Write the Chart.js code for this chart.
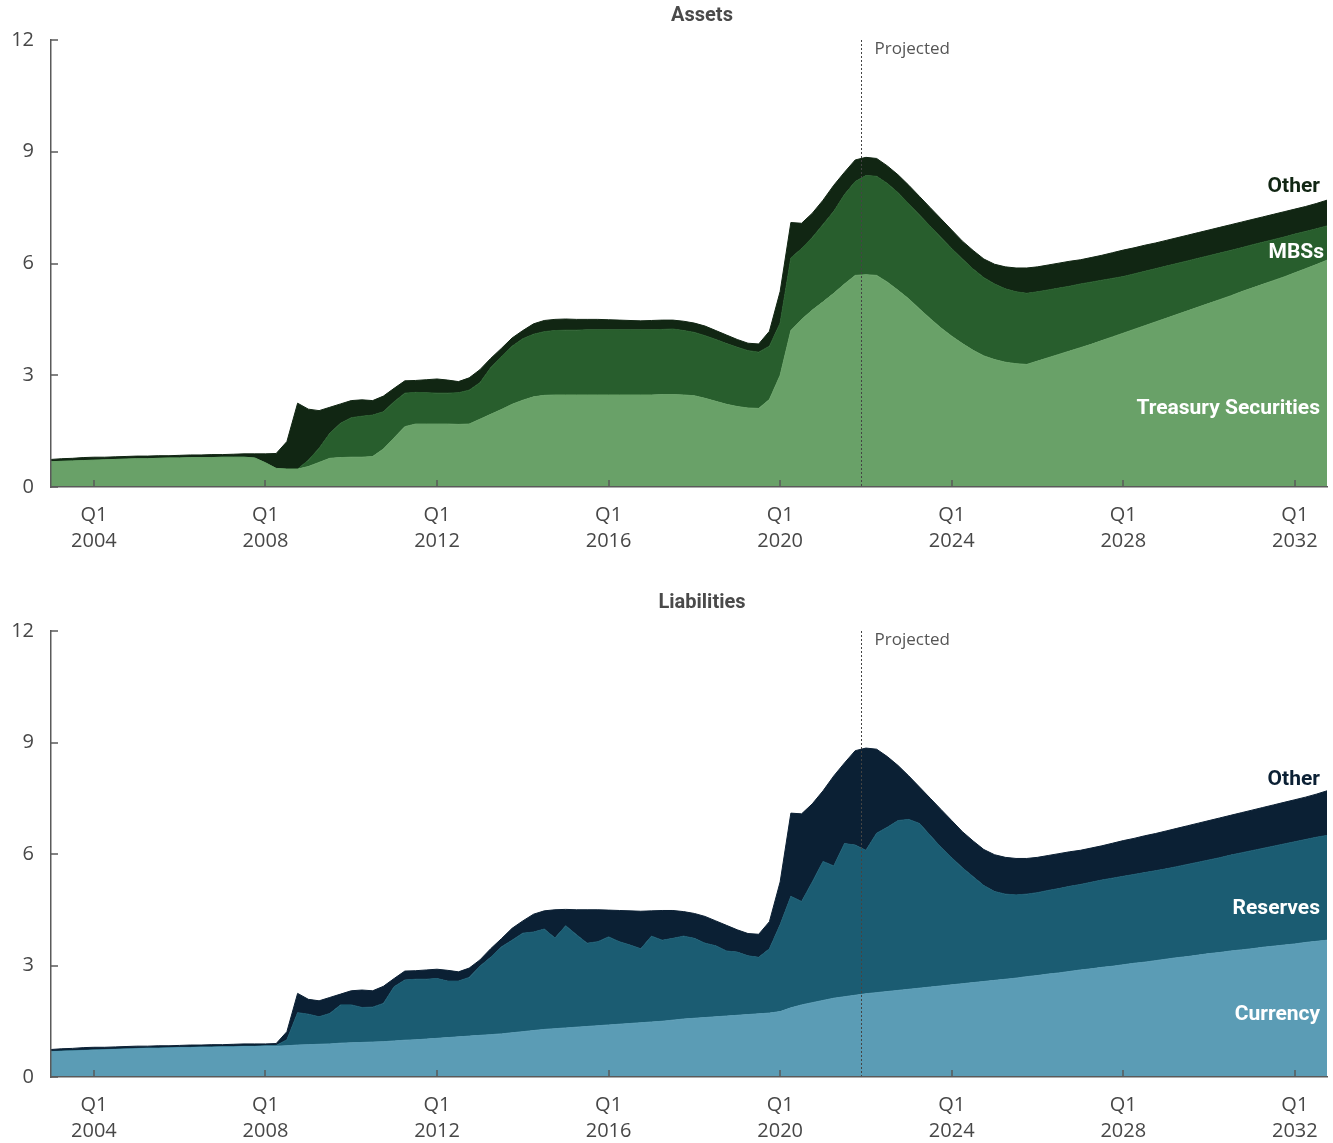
<!DOCTYPE html>
<html>
<head>
<meta charset="utf-8">
<script src="https://cdn.jsdelivr.net/npm/chart.js@4.4.1/dist/chart.umd.min.js"></script>
<style>
  body { margin: 0; background: #fff; }
  #wrap { position: relative; width: 1333px; height: 1143px; }
  canvas { position: absolute; left: 0; }
  #assets { top: 0; }
  #liabilities { top: 572px; }
</style>
</head>
<body>
<div id="wrap">
  <canvas id="assets" width="1333" height="572"></canvas>
  <canvas id="liabilities" width="1333" height="571"></canvas>
</div>
<script>
// quarters 2003 Q1 .. 2032 Q4 as fractional years
const quarters = [];
for (let yr = 2003; yr <= 2032; yr++) {
    for (let q = 0; q < 4; q++) quarters.push(yr + q / 4);
}

const tickYears = [2004, 2008, 2012, 2016, 2020, 2024, 2028, 2032];
const projectedStart = 2021.875;

// Assets, trillions of dollars
const treasury = [
    0.68, 0.69, 0.70, 0.71, 0.72, 0.73, 0.74, 0.75, 0.76, 0.76,
    0.77, 0.78, 0.78, 0.79, 0.79, 0.79, 0.80, 0.80, 0.80, 0.78,
    0.65, 0.50, 0.48, 0.48, 0.55, 0.66, 0.77, 0.79, 0.80, 0.80,
    0.82, 1.02, 1.32, 1.62, 1.69, 1.69, 1.69, 1.69, 1.68, 1.69,
    1.82, 1.95, 2.08, 2.22, 2.33, 2.42, 2.46, 2.47, 2.47, 2.47,
    2.47, 2.47, 2.47, 2.47, 2.47, 2.47, 2.47, 2.48, 2.48, 2.47,
    2.45, 2.38, 2.30, 2.22, 2.16, 2.12, 2.11, 2.35, 3.00, 4.20,
    4.50, 4.75, 4.97, 5.20, 5.45, 5.68, 5.70, 5.68, 5.50, 5.28,
    5.05, 4.78, 4.52, 4.27, 4.05, 3.85, 3.67, 3.52, 3.42, 3.35,
    3.31, 3.29, 3.38, 3.47, 3.56, 3.65, 3.74, 3.83, 3.93, 4.03,
    4.13, 4.23, 4.33, 4.43, 4.53, 4.63, 4.73, 4.83, 4.93, 5.03,
    5.13, 5.24, 5.34, 5.44, 5.54, 5.64, 5.75, 5.86, 5.97, 6.09
];
const mbs = [
    0, 0, 0, 0, 0, 0, 0, 0, 0, 0,
    0, 0, 0, 0, 0, 0, 0, 0, 0, 0,
    0, 0, 0, 0, 0.17, 0.38, 0.67, 0.92, 1.06, 1.10,
    1.11, 1.00, 0.97, 0.90, 0.85, 0.84, 0.83, 0.83, 0.85, 0.91,
    0.98, 1.25, 1.42, 1.56, 1.65, 1.68, 1.71, 1.73, 1.74, 1.74,
    1.75, 1.75, 1.75, 1.75, 1.75, 1.75, 1.75, 1.75, 1.76, 1.73,
    1.70, 1.68, 1.66, 1.63, 1.59, 1.54, 1.51, 1.43, 1.40, 1.95,
    1.90, 1.95, 2.08, 2.20, 2.40, 2.52, 2.66, 2.66, 2.65, 2.62,
    2.55, 2.52, 2.48, 2.43, 2.35, 2.27, 2.18, 2.10, 2.03, 1.97,
    1.93, 1.91, 1.86, 1.82, 1.78, 1.74, 1.71, 1.67, 1.62, 1.57,
    1.52, 1.49, 1.46, 1.43, 1.40, 1.37, 1.34, 1.31, 1.28, 1.25,
    1.22, 1.18, 1.16, 1.13, 1.10, 1.07, 1.04, 1.00, 0.96, 0.92
];
const assetsOther = [
    0.06, 0.07, 0.07, 0.08, 0.08, 0.07, 0.07, 0.07, 0.07, 0.07,
    0.07, 0.06, 0.07, 0.07, 0.07, 0.08, 0.07, 0.08, 0.09, 0.11,
    0.24, 0.40, 0.74, 1.77, 1.37, 1.01, 0.70, 0.52, 0.46, 0.44,
    0.39, 0.42, 0.36, 0.33, 0.32, 0.35, 0.38, 0.35, 0.30, 0.33,
    0.35, 0.25, 0.22, 0.22, 0.22, 0.28, 0.30, 0.30, 0.30, 0.29,
    0.28, 0.28, 0.27, 0.26, 0.25, 0.24, 0.25, 0.25, 0.24, 0.25,
    0.25, 0.26, 0.24, 0.23, 0.21, 0.20, 0.22, 0.40, 0.85, 0.95,
    0.68, 0.65, 0.65, 0.70, 0.60, 0.58, 0.49, 0.48, 0.47, 0.48,
    0.50, 0.50, 0.50, 0.50, 0.50, 0.48, 0.50, 0.50, 0.53, 0.59,
    0.64, 0.68, 0.67, 0.67, 0.67, 0.67, 0.65, 0.66, 0.67, 0.69,
    0.71, 0.70, 0.70, 0.69, 0.69, 0.69, 0.69, 0.69, 0.69, 0.69,
    0.69, 0.69, 0.68, 0.68, 0.68, 0.68, 0.67, 0.67, 0.68, 0.69
];

// Liabilities, trillions of dollars
const currency = [
    0.68, 0.69, 0.70, 0.71, 0.72, 0.73, 0.74, 0.75, 0.76, 0.77,
    0.77, 0.78, 0.79, 0.79, 0.80, 0.80, 0.81, 0.81, 0.82, 0.82,
    0.83, 0.83, 0.84, 0.86, 0.87, 0.88, 0.89, 0.91, 0.92, 0.93,
    0.94, 0.95, 0.97, 0.99, 1.00, 1.02, 1.04, 1.06, 1.08, 1.10,
    1.12, 1.14, 1.16, 1.19, 1.22, 1.25, 1.28, 1.30, 1.32, 1.34,
    1.36, 1.38, 1.40, 1.42, 1.44, 1.46, 1.48, 1.50, 1.53, 1.56,
    1.58, 1.60, 1.62, 1.64, 1.66, 1.68, 1.70, 1.72, 1.76, 1.86,
    1.94, 2.00, 2.06, 2.12, 2.16, 2.20, 2.24, 2.27, 2.30, 2.33,
    2.36, 2.39, 2.42, 2.45, 2.48, 2.51, 2.54, 2.57, 2.60, 2.63,
    2.66, 2.70, 2.73, 2.77, 2.80, 2.84, 2.88, 2.91, 2.95, 2.98,
    3.02, 3.06, 3.09, 3.13, 3.17, 3.21, 3.24, 3.28, 3.32, 3.35,
    3.39, 3.42, 3.45, 3.49, 3.52, 3.55, 3.58, 3.62, 3.65, 3.68
];
const reserves = [
    0.01, 0.01, 0.01, 0.01, 0.01, 0.01, 0.01, 0.01, 0.01, 0.01,
    0.01, 0.01, 0.01, 0.01, 0.01, 0.01, 0.01, 0.01, 0.01, 0.01,
    0.01, 0.02, 0.16, 0.87, 0.82, 0.74, 0.82, 1.03, 1.02, 0.94,
    0.94, 1.03, 1.46, 1.62, 1.63, 1.61, 1.61, 1.52, 1.50, 1.58,
    1.86, 2.08, 2.34, 2.49, 2.65, 2.65, 2.70, 2.44, 2.75, 2.49,
    2.24, 2.26, 2.37, 2.22, 2.11, 1.99, 2.31, 2.18, 2.20, 2.23,
    2.15, 2.00, 1.91, 1.75, 1.70, 1.58, 1.52, 1.73, 2.34, 3.00,
    2.78, 3.25, 3.74, 3.56, 4.12, 4.04, 3.86, 4.29, 4.42, 4.57,
    4.57, 4.43, 4.08, 3.73, 3.42, 3.12, 2.85, 2.58, 2.39, 2.29,
    2.24, 2.22, 2.23, 2.25, 2.27, 2.29, 2.30, 2.33, 2.35, 2.37,
    2.38, 2.39, 2.41, 2.42, 2.43, 2.45, 2.48, 2.50, 2.52, 2.55,
    2.58, 2.61, 2.64, 2.66, 2.69, 2.72, 2.75, 2.77, 2.80, 2.82
];
const liabOther = [
    0.05, 0.06, 0.06, 0.07, 0.07, 0.06, 0.06, 0.06, 0.06, 0.05,
    0.06, 0.05, 0.05, 0.06, 0.05, 0.06, 0.05, 0.06, 0.06, 0.06,
    0.05, 0.05, 0.22, 0.52, 0.40, 0.43, 0.43, 0.29, 0.38, 0.47,
    0.44, 0.46, 0.22, 0.24, 0.23, 0.25, 0.25, 0.29, 0.25, 0.25,
    0.17, 0.23, 0.22, 0.32, 0.33, 0.48, 0.49, 0.76, 0.44, 0.67,
    0.90, 0.86, 0.72, 0.84, 0.92, 1.01, 0.68, 0.80, 0.75, 0.66,
    0.67, 0.72, 0.67, 0.69, 0.60, 0.60, 0.62, 0.73, 1.15, 2.24,
    2.36, 2.10, 1.90, 2.42, 2.17, 2.54, 2.75, 2.26, 1.90, 1.48,
    1.17, 0.98, 1.00, 1.02, 1.00, 0.97, 0.96, 0.97, 0.99, 0.99,
    0.98, 0.96, 0.95, 0.94, 0.94, 0.93, 0.92, 0.92, 0.92, 0.94,
    0.96, 0.97, 0.99, 1.00, 1.02, 1.03, 1.04, 1.05, 1.06, 1.07,
    1.07, 1.08, 1.09, 1.10, 1.11, 1.12, 1.13, 1.14, 1.16, 1.20
];

const axisColor = '#5a5a5a';
const textColor = '#474747';

// inward tick marks, projection line, series labels and panel title
const panelDecor = {
    id: 'panelDecor',
    afterDatasetsDraw(chart, args, opts) {
        const { ctx, chartArea: a, scales: { x, y } } = chart;
        ctx.save();
        ctx.strokeStyle = axisColor;
        ctx.lineWidth = 1.5;
        ctx.beginPath();
        x.ticks.forEach(t => {
            const px = Math.round(x.getPixelForValue(t.value));
            ctx.moveTo(px, a.bottom);
            ctx.lineTo(px, a.bottom - 7);
        });
        y.ticks.forEach(t => {
            const py = Math.round(y.getPixelForValue(t.value));
            ctx.moveTo(a.left, py);
            ctx.lineTo(a.left + 7, py);
        });
        ctx.stroke();

        const lx = Math.round(x.getPixelForValue(projectedStart)) + 0.5;
        ctx.strokeStyle = '#444';
        ctx.lineWidth = 1;
        ctx.setLineDash([2, 2]);
        ctx.beginPath();
        ctx.moveTo(lx, a.top);
        ctx.lineTo(lx, a.bottom);
        ctx.stroke();
        ctx.setLineDash([]);

        ctx.textBaseline = 'middle';
        ctx.textAlign = 'left';
        ctx.fillStyle = '#555';
        ctx.font = '17px "Open Sans"';
        ctx.fillText('Projected', lx + 13, a.top + 9);

        ctx.textAlign = 'right';
        ctx.font = 'bold 21px Roboto';
        opts.labels.forEach(l => {
            ctx.fillStyle = l.color;
            ctx.fillText(l.text, a.right - (l.inset || 7), y.getPixelForValue(l.value));
        });

        ctx.textAlign = 'center';
        ctx.fillStyle = '#4a4a4a';
        ctx.font = 'bold 20px Roboto';
        ctx.fillText(opts.title, 702, opts.titleY);
        ctx.restore();
    }
};

function makePanel(canvasId, series, decor, topPad, axisHeight) {
    return new Chart(document.getElementById(canvasId), {
        type: 'line',
        data: {
            datasets: series.map((s, k) => ({
                label: s.label,
                data: s.data.map((v, i) => ({ x: quarters[i], y: v })),
                backgroundColor: s.color,
                borderColor: s.color,
                borderWidth: 1,
                fill: k === 0 ? 'origin' : '-1',
                pointRadius: 0,
                tension: 0
            }))
        },
        options: {
            responsive: false,
            animation: false,
            events: [],
            layout: { padding: { top: topPad, right: 6, left: 0, bottom: 0 } },
            scales: {
                x: {
                    type: 'linear',
                    min: quarters[0],
                    max: quarters[quarters.length - 1],
                    afterBuildTicks: scale => {
                        scale.ticks = tickYears.map(v => ({ value: v }));
                    },
                    afterFit: scale => { scale.height = axisHeight; },
                    grid: { display: false },
                    border: { display: true, color: axisColor, width: 1.5, z: 1 },
                    ticks: {
                        autoSkip: false,
                        maxRotation: 0,
                        padding: 7,
                        color: textColor,
                        font: { family: 'Open Sans', size: 20, lineHeight: 1.3 },
                        callback: value => ['Q1', String(value)]
                    }
                },
                y: {
                    stacked: true,
                    min: 0,
                    max: 12,
                    afterFit: scale => { scale.width = 51; },
                    grid: { display: false },
                    border: { display: true, color: axisColor, width: 1.5, z: 1 },
                    ticks: {
                        stepSize: 3,
                        padding: 9,
                        color: textColor,
                        font: { family: 'Open Sans', size: 20 }
                    }
                }
            },
            plugins: {
                legend: { display: false },
                tooltip: { enabled: false },
                panelDecor: decor
            }
        },
        plugins: [panelDecor]
    });
}

makePanel('assets', [
    { label: 'Treasury Securities', data: treasury, color: '#69a168' },
    { label: 'MBSs', data: mbs, color: '#285e2d' },
    { label: 'Other', data: assetsOther, color: '#112613' }
], {
    title: 'Assets',
    titleY: 16,
    labels: [
        { text: 'Other', value: 8.05, color: '#112613' },
        { text: 'MBSs', value: 6.28, color: '#ffffff', inset: 3 },
        { text: 'Treasury Securities', value: 2.09, color: '#ffffff' }
    ]
}, 40, 85);

makePanel('liabilities', [
    { label: 'Currency', data: currency, color: '#5b9cb5' },
    { label: 'Reserves', data: reserves, color: '#1b5c72' },
    { label: 'Other', data: liabOther, color: '#0b2034' }
], {
    title: 'Liabilities',
    titleY: 31,
    labels: [
        { text: 'Other', value: 7.99, color: '#0b2034' },
        { text: 'Reserves', value: 4.52, color: '#ffffff' },
        { text: 'Currency', value: 1.67, color: '#ffffff' }
    ]
}, 59, 66);
</script>
</body>
</html>
